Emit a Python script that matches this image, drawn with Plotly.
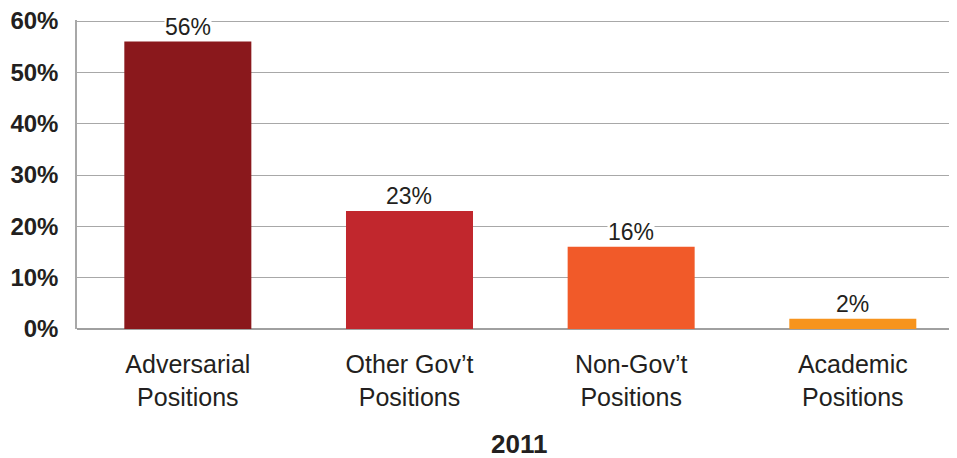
import plotly.graph_objects as go

categories = ["Adversarial<br>Positions", "Other Gov’t<br>Positions", "Non-Gov’t<br>Positions", "Academic<br>Positions"]
values = [56, 23, 16, 2]
labels = ["56%", "23%", "16%", "2%"]
colors = ["#8A181C", "#C1272D", "#F15A29", "#F7941D"]
y_ticks = [0, 10, 20, 30, 40, 50, 60]
y_tick_text = ["0%", "10%", "20%", "30%", "40%", "50%", "60%"]
x_title = "2011"

FONT = "Liberation Sans, Arial, Helvetica"
x_pos = list(range(len(categories)))

fig = go.Figure(go.Bar(
    x=x_pos, y=values, width=0.573,
    marker=dict(color=colors, line=dict(width=0)),
    hoverinfo="skip",
))

annotations = [
    dict(x=x, y=v, text=t, xref="x", yref="y", xanchor="center", yanchor="bottom",
         yshift=1, showarrow=False, bgcolor="white", borderpad=0,
         font=dict(family=FONT, size=23, color="#231F20"))
    for x, v, t in zip(x_pos, values, labels)
]
annotations.append(dict(
    text="<b>" + x_title + "</b>", xref="paper", yref="paper",
    x=(519 - 77) / 880, y=-(444 - 329) / 309, xanchor="center", yanchor="middle",
    showarrow=False, font=dict(family=FONT, size=26, color="#231F20"),
))

fig.update_layout(
    width=949, height=450,
    margin=dict(l=69, r=0, t=12, b=129),
    paper_bgcolor="white", plot_bgcolor="white",
    showlegend=False,
    font=dict(family=FONT, color="#231F20"),
    xaxis=dict(
        tickmode="array", tickvals=x_pos, ticktext=categories,
        range=[-0.5, 3.47], showgrid=False, showline=False, zeroline=False,
        tickfont=dict(size=25, color="#231F20"), ticks="", ticklabelstandoff=18,
    ),
    yaxis=dict(
        range=[0, 60.2], tickvals=y_ticks, ticktext=y_tick_text,
        showgrid=True, gridcolor="#A8A8A8", gridwidth=1,
        showline=True, linecolor="#A8A8A8", linewidth=1.5,
        zeroline=True, zerolinecolor="#A0A0A0", zerolinewidth=1.5,
        tickfont=dict(size=24, color="#231F20", weight="bold"), ticks="",
        ticklabelstandoff=12, ticklabeloverflow="allow",
    ),
    annotations=annotations,
)

fig.write_html("out.html")
